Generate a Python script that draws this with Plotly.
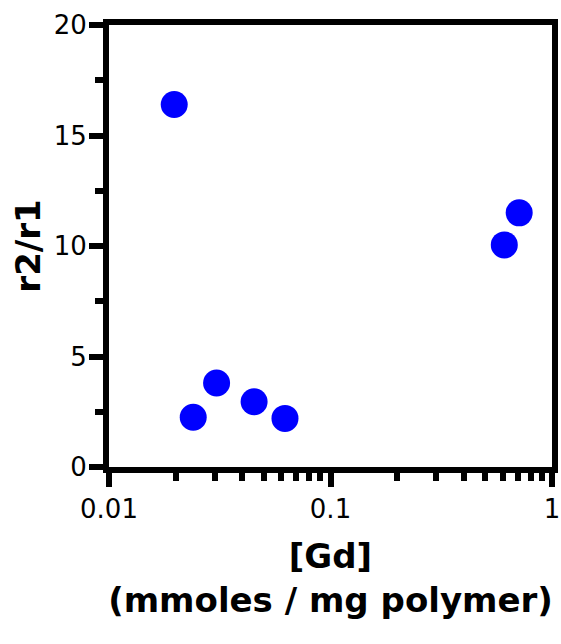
import plotly.graph_objects as go

gd_conc = [0.0197, 0.0240, 0.0306, 0.0452, 0.0623, 0.609, 0.711]
r2_r1 = [16.4, 2.25, 3.8, 2.95, 2.2, 10.05, 11.5]

x_tickvals = [0.01, 0.1, 1]
x_ticktext = ["0.01", "0.1", "1"]
y_tickvals = [0, 5, 10, 15, 20]

FONT = "DejaVu Sans"

fig = go.Figure()
fig.add_trace(go.Scatter(
    x=gd_conc, y=r2_r1, mode="markers",
    marker=dict(color="#0000FF", size=27, line=dict(width=0)),
    showlegend=False,
))

fig.update_layout(
    width=561, height=644,
    margin=dict(l=109, r=9, t=25, b=177),
    plot_bgcolor="white", paper_bgcolor="white",
    font=dict(family=FONT, color="black"),
)

fig.update_xaxes(
    type="log", range=[-2, 0], automargin=False,
    tickvals=x_tickvals, ticktext=x_ticktext,
    showline=True, linewidth=6, linecolor="black", mirror=True,
    ticks="outside", ticklen=14, tickwidth=6, tickcolor="black",
    minor=dict(ticks="outside", ticklen=8, tickwidth=6, tickcolor="black", dtick="D1", showgrid=False),
    showgrid=False, zeroline=False,
    tickfont=dict(family=FONT, size=26, color="black"),
    title=dict(text="<b>[Gd]<br>(mmoles / mg polymer)</b>", font=dict(family=FONT, size=34, color="black"), standoff=23),
)
fig.update_yaxes(
    range=[0, 20], tickvals=y_tickvals, automargin=False,
    showline=True, linewidth=6, linecolor="black", mirror=True,
    ticks="outside", ticklen=14, tickwidth=6, tickcolor="black",
    ticklabelstandoff=-3,
    minor=dict(ticks="outside", ticklen=8, tickwidth=6, tickcolor="black", dtick=2.5, showgrid=False),
    showgrid=False, zeroline=False,
    tickfont=dict(family=FONT, size=26, color="black"),
    title=dict(text="<b>r2/r1</b>", font=dict(family=FONT, size=34, color="black"), standoff=5),
)

fig.write_html("out.html", config={"displayModeBar": False},
               post_script="document.body.style.margin='0';document.body.style.overflow='hidden';")
